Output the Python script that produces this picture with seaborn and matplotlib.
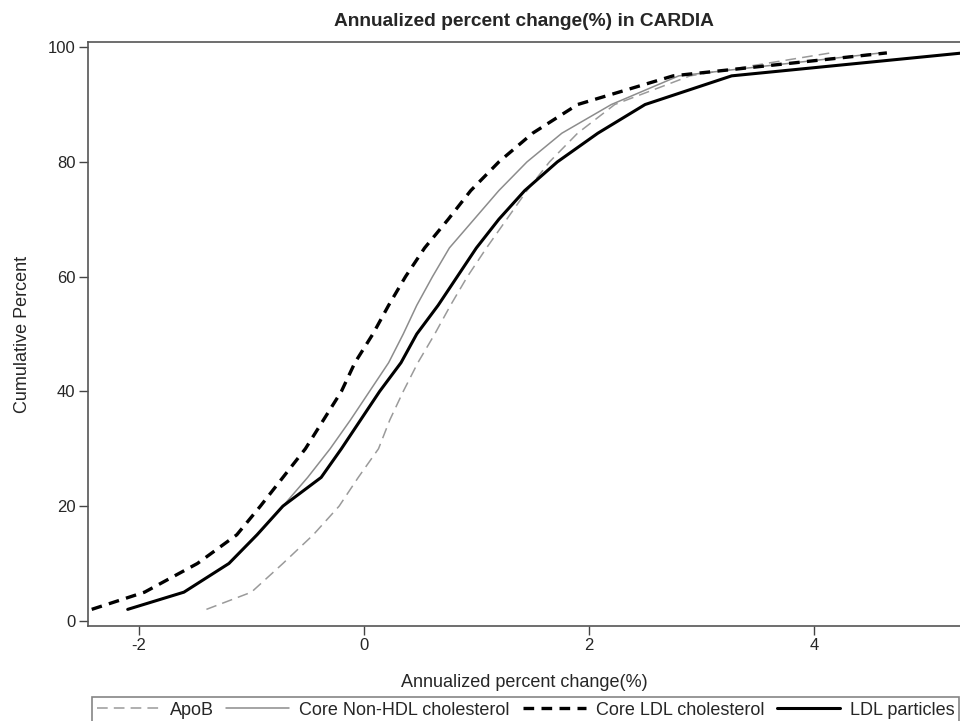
import matplotlib
matplotlib.use("Agg")
import matplotlib.pyplot as plt
import seaborn as sns
import pandas as pd

# cumulative percent levels (y) and annualized % change at each level (x)
pct = [2, 5, 10, 15, 20, 25, 30, 35, 40, 45, 50, 55, 60, 65, 70, 75, 80, 85, 90, 95, 99]

apob = [-1.40, -1.00, -0.72, -0.45, -0.22, -0.05, 0.13, 0.23, 0.35, 0.48, 0.63, 0.77,
        0.92, 1.09, 1.27, 1.45, 1.65, 1.90, 2.23, 2.90, 4.15]
non_hdl = [-2.10, -1.60, -1.20, -0.95, -0.72, -0.50, -0.30, -0.12, 0.05, 0.22, 0.35, 0.47,
           0.61, 0.76, 0.98, 1.20, 1.45, 1.76, 2.20, 2.80, 4.60]
core_ldl = [-2.42, -1.95, -1.48, -1.13, -0.92, -0.72, -0.52, -0.36, -0.20, -0.08, 0.08, 0.22,
            0.37, 0.54, 0.75, 0.95, 1.20, 1.50, 1.90, 2.75, 4.65]
ldl_part = [-2.10, -1.60, -1.20, -0.95, -0.72, -0.38, -0.20, -0.03, 0.14, 0.33, 0.47, 0.66,
            0.83, 1.00, 1.20, 1.43, 1.72, 2.08, 2.50, 3.27, 5.33]

labels = ["ApoB", "Core Non-HDL cholesterol", "Core LDL cholesterol", "LDL particles"]

df = pd.concat([
    pd.DataFrame({"x": apob, "y": pct, "marker": labels[0]}),
    pd.DataFrame({"x": non_hdl, "y": pct, "marker": labels[1]}),
    pd.DataFrame({"x": core_ldl, "y": pct, "marker": labels[2]}),
    pd.DataFrame({"x": ldl_part, "y": pct, "marker": labels[3]}),
])

sns.set_style("white")
plt.rcParams["font.family"] = ["Liberation Sans", "DejaVu Sans"]

fig = plt.figure(figsize=(9.6, 7.21), dpi=100)
ax = fig.add_axes([88 / 960, 1 - 626 / 721, 1 - 88 / 960, (626 - 42) / 721])

styles = {
    labels[0]: dict(color="#9a9a9a", lw=1.1, dashes=(7, 4)),
    labels[1]: dict(color="#8c8c8c", lw=1.1, dashes=(None, None)),
    labels[2]: dict(color="black", lw=2.4, dashes=(3.2, 2.2)),
    labels[3]: dict(color="black", lw=2.2, dashes=(None, None)),
}
for name in labels:
    st = styles[name]
    sns.lineplot(data=df[df["marker"] == name], x="x", y="y", sort=False, estimator=None,
                 color=st["color"], lw=st["lw"], ax=ax, label=name)
    line = ax.get_lines()[-1]
    if st["dashes"][0] is not None:
        line.set_dashes(st["dashes"])

ax.set_xlim(-2.453, 5.30)
ax.set_ylim(-0.9, 100.9)
ax.set_xticks([-2, 0, 2, 4])
ax.set_yticks([0, 20, 40, 60, 80, 100])
ax.tick_params(direction="out", length=6.5, width=1, color="#444444", labelsize=12,
               left=True, bottom=True, pad=2.5)
ax.xaxis.set_major_formatter(matplotlib.ticker.FormatStrFormatter("%g"))
for s in ["left", "bottom", "top"]:
    ax.spines[s].set_color("#555555")
    ax.spines[s].set_linewidth(1.2)
ax.spines["right"].set_visible(False)

ax.set_xlabel("Annualized percent change(%)", fontsize=13)
ax.xaxis.set_label_coords(0.5, -(674 - 626) / 584)
ax.set_ylabel("Cumulative Percent", fontsize=13)
ax.yaxis.set_label_coords(-(88 - 31) / 872, 0.5)
ax.set_title("Annualized percent change(%) in CARDIA", fontsize=13.8, fontweight="bold", pad=11.5)

handles, labs = ax.get_legend_handles_labels()
ax.get_legend().remove()
leg = fig.legend(handles, labs, ncol=4, loc="upper left", bbox_to_anchor=(92 / 960, 1 - 697 / 721),
                 frameon=True, fancybox=False, edgecolor="#666666", fontsize=13,
                 handlelength=3.5, columnspacing=0.7, borderpad=0.25, handletextpad=0.55,
                 borderaxespad=0)
leg.get_frame().set_linewidth(1.2)

fig.savefig("out.png", dpi=100)
